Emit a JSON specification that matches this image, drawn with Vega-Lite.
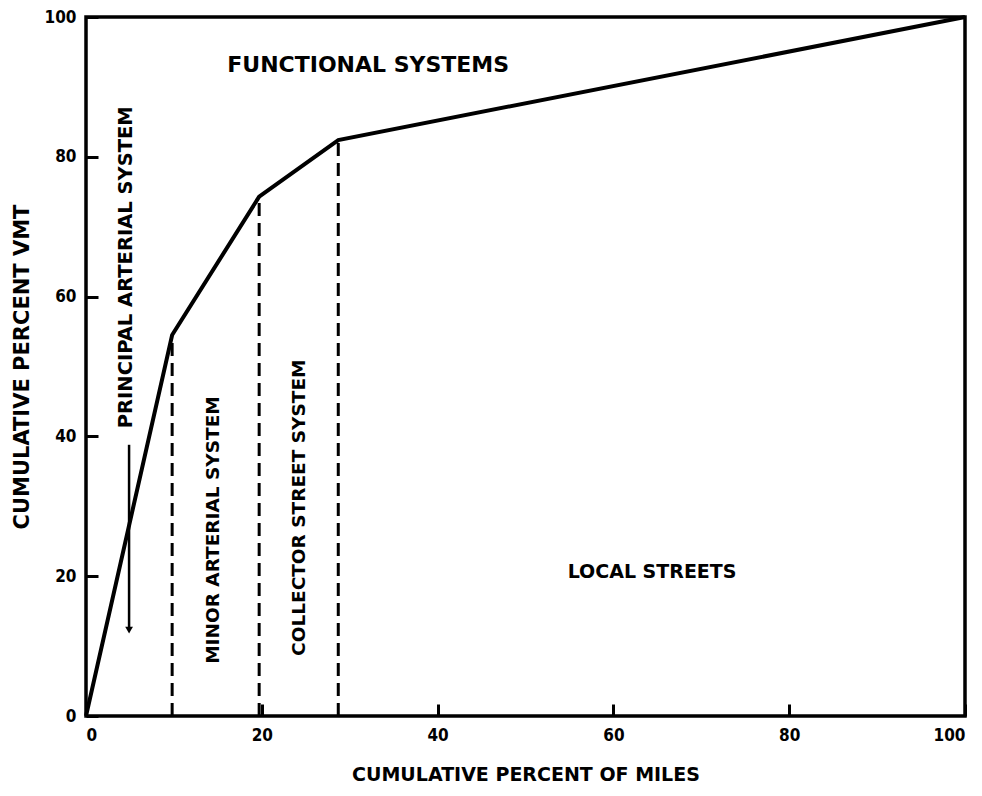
{
  "$schema": "https://vega.github.io/schema/vega-lite/v6.json",
  "width": 879,
  "height": 699,
  "autosize": {"type": "none"},
  "padding": {"left": 86, "top": 17, "right": 17, "bottom": 80},
  "background": "white",
  "config": {
    "view": {"stroke": "black", "strokeWidth": 3.5},
    "font": "DejaVu Sans Condensed, Liberation Sans Narrow, DejaVu Sans",
    "axis": {
      "grid": false,
      "domain": false,
      "tickColor": "black",
      "tickWidth": 3,
      "labelColor": "black",
      "labelFontWeight": "bold",
      "labelFontSize": 17,
      "titleColor": "black",
      "titleFont": "DejaVu Sans",
      "titleFontWeight": "bold"
    },
    "text": {"font": "DejaVu Sans", "fontWeight": "bold", "color": "black"}
  },
  "datasets": {
    "curve": [
      {"miles": 0, "vmt": 0},
      {"miles": 9.8, "vmt": 54.5},
      {"miles": 19.7, "vmt": 74.3},
      {"miles": 28.7, "vmt": 82.4},
      {"miles": 100, "vmt": 100}
    ],
    "bounds": [
      {"miles": 9.8, "base": 0, "vmt": 54.5},
      {"miles": 19.7, "base": 0, "vmt": 74.3},
      {"miles": 28.7, "base": 0, "vmt": 82.4}
    ],
    "bigvlabel": [
      {"miles": 4.6, "vmt": 64.2, "label": "PRINCIPAL ARTERIAL SYSTEM"}
    ],
    "vlabels": [
      {"miles": 14.4, "vmt": 26.6, "label": "MINOR ARTERIAL SYSTEM"},
      {"miles": 24.2, "vmt": 29.8, "label": "COLLECTOR STREET SYSTEM"}
    ],
    "hlabels": [
      {"miles": 32.1, "vmt": 93.2, "label": "FUNCTIONAL SYSTEMS"}
    ],
    "hlabels2": [
      {"miles": 64.4, "vmt": 20.6, "label": "LOCAL STREETS"}
    ],
    "arrow": [
      {"miles": 4.9, "top": 38.8, "bottom": 12.3}
    ]
  },
  "layer": [
    {
      "data": {"name": "bounds"},
      "mark": {"type": "rule", "strokeWidth": 3, "strokeDash": [13, 7], "color": "black"},
      "encoding": {
        "x": {"field": "miles", "type": "quantitative", "scale": {"domain": [0, 100], "nice": false},
          "axis": {"title": "CUMULATIVE PERCENT OF MILES", "titleFontSize": 19, "values": [0, 20, 40, 60, 80, 100], "tickSize": -12, "labelPadding": 23, "titlePadding": 22}},
        "y": {"field": "base", "type": "quantitative", "scale": {"domain": [0, 100], "nice": false},
          "axis": {"title": "CUMULATIVE PERCENT VMT", "titleFontSize": 21, "values": [0, 20, 40, 60, 80, 100], "tickSize": -12, "labelPadding": 22, "titlePadding": 12}},
        "y2": {"field": "vmt"}
      }
    },
    {
      "data": {"name": "curve"},
      "mark": {"type": "line", "strokeWidth": 4, "color": "black"},
      "encoding": {
        "x": {"field": "miles", "type": "quantitative"},
        "y": {"field": "vmt", "type": "quantitative"}
      }
    },
    {
      "data": {"name": "arrow"},
      "mark": {"type": "rule", "strokeWidth": 2.5, "color": "black"},
      "encoding": {
        "x": {"field": "miles", "type": "quantitative"},
        "y": {"field": "top", "type": "quantitative"},
        "y2": {"field": "bottom"}
      }
    },
    {
      "data": {"name": "arrow"},
      "mark": {"type": "point", "shape": "triangle-down", "filled": true, "color": "black", "size": 60, "opacity": 1},
      "encoding": {
        "x": {"field": "miles", "type": "quantitative"},
        "y": {"field": "bottom", "type": "quantitative"}
      }
    },
    {
      "data": {"name": "bigvlabel"},
      "mark": {"type": "text", "angle": 270, "fontSize": 19.5, "align": "center", "baseline": "middle"},
      "encoding": {
        "x": {"field": "miles", "type": "quantitative"},
        "y": {"field": "vmt", "type": "quantitative"},
        "text": {"field": "label"}
      }
    },
    {
      "data": {"name": "vlabels"},
      "mark": {"type": "text", "angle": 270, "fontSize": 18.5, "align": "center", "baseline": "middle"},
      "encoding": {
        "x": {"field": "miles", "type": "quantitative"},
        "y": {"field": "vmt", "type": "quantitative"},
        "text": {"field": "label"}
      }
    },
    {
      "data": {"name": "hlabels"},
      "mark": {"type": "text", "fontSize": 22, "align": "center", "baseline": "middle"},
      "encoding": {
        "x": {"field": "miles", "type": "quantitative"},
        "y": {"field": "vmt", "type": "quantitative"},
        "text": {"field": "label"}
      }
    },
    {
      "data": {"name": "hlabels2"},
      "mark": {"type": "text", "fontSize": 19, "align": "center", "baseline": "middle"},
      "encoding": {
        "x": {"field": "miles", "type": "quantitative"},
        "y": {"field": "vmt", "type": "quantitative"},
        "text": {"field": "label"}
      }
    }
  ]
}
